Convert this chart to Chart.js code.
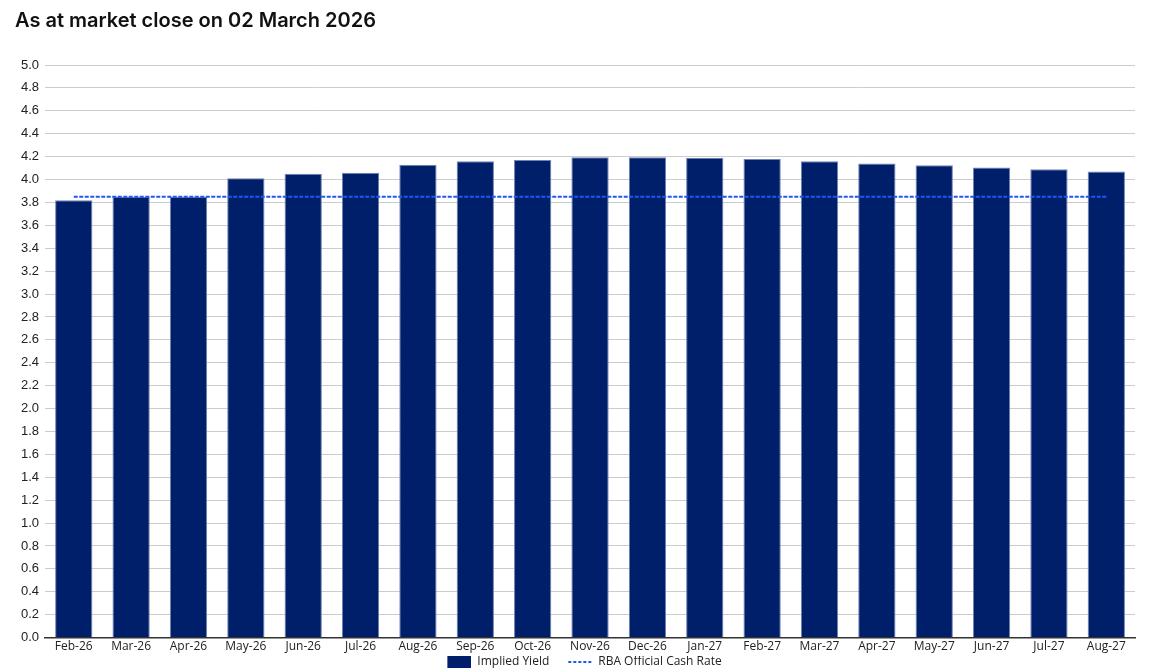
<!DOCTYPE html>
<html>
<head>
<meta charset="utf-8">
<script src="https://cdn.jsdelivr.net/npm/chart.js@4"></script>
<style>
  html, body { margin: 0; padding: 0; background: #ffffff; }
  #wrap { position: relative; width: 1151px; height: 672px; }
</style>
</head>
<body>
<div id="wrap"><canvas id="c" width="1151" height="672"></canvas></div>
<script>
const titleText = 'As at market close on 02 March 2026';
const categories = ['Feb-26','Mar-26','Apr-26','May-26','Jun-26','Jul-26','Aug-26','Sep-26','Oct-26','Nov-26','Dec-26','Jan-27','Feb-27','Mar-27','Apr-27','May-27','Jun-27','Jul-27','Aug-27'];
const impliedYield = [3.82, 3.85, 3.85, 4.01, 4.05, 4.06, 4.13, 4.16, 4.17, 4.195, 4.195, 4.19, 4.18, 4.16, 4.14, 4.125, 4.105, 4.09, 4.07];
const cashRate = [3.85, 3.85, 3.85, 3.85, 3.85, 3.85, 3.85, 3.85, 3.85, 3.85, 3.85, 3.85, 3.85, 3.85, 3.85, 3.85, 3.85, 3.85, 3.85];
const seriesNames = ['Implied Yield', 'RBA Official Cash Rate'];
const yMin = 0, yMax = 5, yStep = 0.2;

const barFill = '#001f6b', barBorder = '#7183b3', lineColor = '#1f57f0';

// legend swatches (drawn as point-style images: blank lead-in + swatch)
const SW_LEAD = 19, SW_W = 24, SW_H = 12;
function makeSwatch(kind) {
  const c = document.createElement('canvas');
  c.width = SW_LEAD + SW_W; c.height = SW_H;
  const g = c.getContext('2d');
  if (kind === 'bar') {
    g.fillStyle = barFill;
    g.fillRect(SW_LEAD, 0, SW_W, SW_H);
  } else {
    g.strokeStyle = lineColor;
    g.lineWidth = 2;
    g.setLineDash([3, 2]);
    g.beginPath();
    g.moveTo(SW_LEAD, SW_H / 2);
    g.lineTo(SW_LEAD + SW_W, SW_H / 2);
    g.stroke();
  }
  return c;
}
const swatchBar = makeSwatch('bar');
const swatchLine = makeSwatch('line');

new Chart(document.getElementById('c'), {
  data: {
    labels: categories,
    datasets: [
      {
        type: 'line',
        label: seriesNames[1],
        data: cashRate,
        borderColor: lineColor,
        backgroundColor: lineColor,
        borderWidth: 2,
        borderDash: [4, 1.5],
        pointRadius: 0,
        pointHoverRadius: 0,
        fill: false,
        order: 0
      },
      {
        type: 'bar',
        label: seriesNames[0],
        data: impliedYield,
        backgroundColor: barFill,
        borderColor: barBorder,
        borderWidth: 1,
        categoryPercentage: 0.65,
        barPercentage: 1.0,
        order: 1
      }
    ]
  },
  options: {
    responsive: false,
    animation: false,
    layout: { padding: { left: 15, right: 16, top: 9, bottom: -6 } },
    plugins: {
      title: {
        display: true,
        text: titleText,
        align: 'start',
        color: '#111111',
        font: { family: 'Inter', size: 20, weight: '600' },
        padding: { top: 0, bottom: 32 }
      },
      legend: {
        position: 'bottom',
        reverse: true,
        labels: {
          usePointStyle: true,
          pointStyleWidth: SW_LEAD + SW_W,
          boxHeight: 12,
          padding: 0,
          color: '#222222',
          font: { family: 'Open Sans', size: 12 },
          generateLabels: (chart) => {
            const items = Chart.defaults.plugins.legend.labels.generateLabels(chart);
            items.forEach(it => {
              it.pointStyle = (it.datasetIndex === 1) ? swatchBar : swatchLine;
            });
            return items;
          }
        }
      },
      tooltip: { enabled: false }
    },
    scales: {
      x: {
        grid: { display: false, drawTicks: false },
        border: { display: true, color: '#333333', width: 1.5 },
        ticks: { color: '#222222', font: { family: 'Open Sans', size: 12, lineHeight: 0.7 }, padding: 5, maxRotation: 0, autoSkip: false }
      },
      y: {
        min: yMin,
        max: yMax,
        grid: { color: '#cccccc', drawTicks: false, lineWidth: 1 },
        border: { display: false },
        ticks: {
          stepSize: yStep,
          color: '#222222',
          padding: 6,
          font: { family: 'Liberation Sans', size: 13 },
          callback: (v) => Number(v).toFixed(1)
        }
      }
    }
  }
});
</script>
</body>
</html>
